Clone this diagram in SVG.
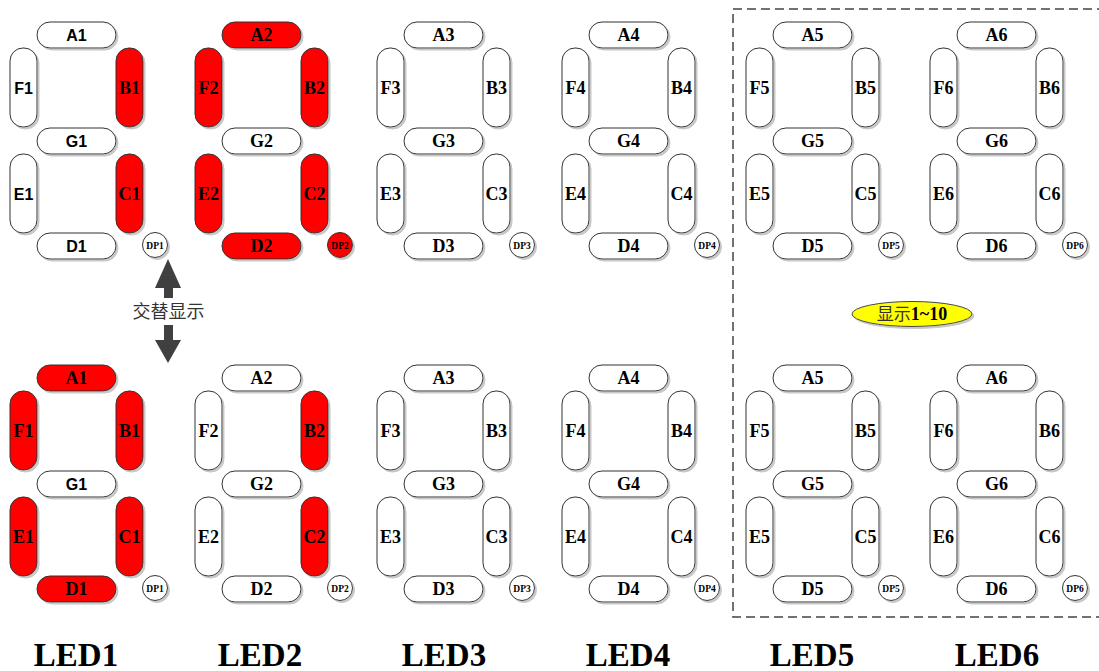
<svg xmlns="http://www.w3.org/2000/svg" width="1099" height="671" viewBox="0 0 1099 671">
<defs>
<style>
.seg{stroke:#333;stroke-width:1;filter:url(#sh)}
.off{fill:#fff}
.on{fill:#ff0000}
.ts{font-family:"Liberation Serif",serif;font-weight:bold;font-size:18px;text-anchor:middle;fill:#000}
.tn{font-family:"Liberation Sans",sans-serif;font-weight:bold;font-size:16px;text-anchor:middle;fill:#000}
.dp{font-family:"Liberation Serif",serif;font-weight:bold;font-size:9.5px;text-anchor:middle;fill:#000}
.led{font-family:"Liberation Serif",serif;font-weight:bold;font-size:33px;text-anchor:middle;fill:#000}
.cn{font-family:"Noto Sans CJK SC",sans-serif;fill:#333}
</style>
<filter id="sh" x="-20%" y="-20%" width="140%" height="140%">
<feDropShadow dx="2" dy="2" stdDeviation="0.6" flood-color="#c8c8c8"/>
</filter>
</defs>
<rect width="1099" height="671" fill="#fff"/>

<!-- LED1 top -->
<g id="led1-top">
<g id="t1-A"><rect class="seg off" x="37" y="22" width="79" height="26" rx="13"/><text class="tn" x="76.5" y="41">A1</text></g>
<g id="t1-F"><rect class="seg off" x="10" y="48" width="27" height="79" rx="13"/><text class="tn" x="23.5" y="93.5">F1</text></g>
<g id="t1-B"><rect class="seg on" x="116" y="48" width="27" height="79" rx="13"/><text class="ts" x="129.5" y="93.5">B1</text></g>
<g id="t1-G"><rect class="seg off" x="37" y="128" width="79" height="26" rx="13"/><text class="tn" x="76.5" y="147">G1</text></g>
<g id="t1-E"><rect class="seg off" x="10" y="154" width="27" height="79" rx="13"/><text class="tn" x="23.5" y="199.5">E1</text></g>
<g id="t1-C"><rect class="seg on" x="116" y="154" width="27" height="79" rx="13"/><text class="ts" x="129.5" y="199.5">C1</text></g>
<g id="t1-D"><rect class="seg off" x="37" y="233" width="79" height="26" rx="13"/><text class="tn" x="76.5" y="252">D1</text></g>
<g id="t1-DP"><circle class="seg off" cx="155" cy="245" r="12.5"/><text class="dp" x="155" y="248.5">DP1</text></g>
</g>

<!-- LED2 top -->
<g id="led2-top">
<g id="t2-A"><rect class="seg on" x="222" y="22" width="79" height="26" rx="13"/><text class="ts" x="261.5" y="41">A2</text></g>
<g id="t2-F"><rect class="seg on" x="195" y="48" width="27" height="79" rx="13"/><text class="ts" x="208.5" y="93.5">F2</text></g>
<g id="t2-B"><rect class="seg on" x="301" y="48" width="27" height="79" rx="13"/><text class="ts" x="314.5" y="93.5">B2</text></g>
<g id="t2-G"><rect class="seg off" x="222" y="128" width="79" height="26" rx="13"/><text class="ts" x="261.5" y="147">G2</text></g>
<g id="t2-E"><rect class="seg on" x="195" y="154" width="27" height="79" rx="13"/><text class="ts" x="208.5" y="199.5">E2</text></g>
<g id="t2-C"><rect class="seg on" x="301" y="154" width="27" height="79" rx="13"/><text class="ts" x="314.5" y="199.5">C2</text></g>
<g id="t2-D"><rect class="seg on" x="222" y="233" width="79" height="26" rx="13"/><text class="ts" x="261.5" y="252">D2</text></g>
<g id="t2-DP"><circle class="seg on" cx="340" cy="245" r="12.5"/><text class="dp" x="340" y="248.5">DP2</text></g>
</g>

<!-- LED3 top -->
<g id="led3-top">
<g id="t3-A"><rect class="seg off" x="404" y="22" width="79" height="26" rx="13"/><text class="ts" x="443.5" y="41">A3</text></g>
<g id="t3-F"><rect class="seg off" x="377" y="48" width="27" height="79" rx="13"/><text class="ts" x="390.5" y="93.5">F3</text></g>
<g id="t3-B"><rect class="seg off" x="483" y="48" width="27" height="79" rx="13"/><text class="ts" x="496.5" y="93.5">B3</text></g>
<g id="t3-G"><rect class="seg off" x="404" y="128" width="79" height="26" rx="13"/><text class="ts" x="443.5" y="147">G3</text></g>
<g id="t3-E"><rect class="seg off" x="377" y="154" width="27" height="79" rx="13"/><text class="ts" x="390.5" y="199.5">E3</text></g>
<g id="t3-C"><rect class="seg off" x="483" y="154" width="27" height="79" rx="13"/><text class="ts" x="496.5" y="199.5">C3</text></g>
<g id="t3-D"><rect class="seg off" x="404" y="233" width="79" height="26" rx="13"/><text class="ts" x="443.5" y="252">D3</text></g>
<g id="t3-DP"><circle class="seg off" cx="522" cy="245" r="12.5"/><text class="dp" x="522" y="248.5">DP3</text></g>
</g>

<!-- LED4 top -->
<g id="led4-top">
<g id="t4-A"><rect class="seg off" x="589" y="22" width="79" height="26" rx="13"/><text class="ts" x="628.5" y="41">A4</text></g>
<g id="t4-F"><rect class="seg off" x="562" y="48" width="27" height="79" rx="13"/><text class="ts" x="575.5" y="93.5">F4</text></g>
<g id="t4-B"><rect class="seg off" x="668" y="48" width="27" height="79" rx="13"/><text class="ts" x="681.5" y="93.5">B4</text></g>
<g id="t4-G"><rect class="seg off" x="589" y="128" width="79" height="26" rx="13"/><text class="ts" x="628.5" y="147">G4</text></g>
<g id="t4-E"><rect class="seg off" x="562" y="154" width="27" height="79" rx="13"/><text class="ts" x="575.5" y="199.5">E4</text></g>
<g id="t4-C"><rect class="seg off" x="668" y="154" width="27" height="79" rx="13"/><text class="ts" x="681.5" y="199.5">C4</text></g>
<g id="t4-D"><rect class="seg off" x="589" y="233" width="79" height="26" rx="13"/><text class="ts" x="628.5" y="252">D4</text></g>
<g id="t4-DP"><circle class="seg off" cx="707" cy="245" r="12.5"/><text class="dp" x="707" y="248.5">DP4</text></g>
</g>

<!-- LED5 top -->
<g id="led5-top">
<g id="t5-A"><rect class="seg off" x="773" y="22" width="79" height="26" rx="13"/><text class="ts" x="812.5" y="41">A5</text></g>
<g id="t5-F"><rect class="seg off" x="746" y="48" width="27" height="79" rx="13"/><text class="ts" x="759.5" y="93.5">F5</text></g>
<g id="t5-B"><rect class="seg off" x="852" y="48" width="27" height="79" rx="13"/><text class="ts" x="865.5" y="93.5">B5</text></g>
<g id="t5-G"><rect class="seg off" x="773" y="128" width="79" height="26" rx="13"/><text class="ts" x="812.5" y="147">G5</text></g>
<g id="t5-E"><rect class="seg off" x="746" y="154" width="27" height="79" rx="13"/><text class="ts" x="759.5" y="199.5">E5</text></g>
<g id="t5-C"><rect class="seg off" x="852" y="154" width="27" height="79" rx="13"/><text class="ts" x="865.5" y="199.5">C5</text></g>
<g id="t5-D"><rect class="seg off" x="773" y="233" width="79" height="26" rx="13"/><text class="ts" x="812.5" y="252">D5</text></g>
<g id="t5-DP"><circle class="seg off" cx="891" cy="245" r="12.5"/><text class="dp" x="891" y="248.5">DP5</text></g>
</g>

<!-- LED6 top -->
<g id="led6-top">
<g id="t6-A"><rect class="seg off" x="957" y="22" width="79" height="26" rx="13"/><text class="ts" x="996.5" y="41">A6</text></g>
<g id="t6-F"><rect class="seg off" x="930" y="48" width="27" height="79" rx="13"/><text class="ts" x="943.5" y="93.5">F6</text></g>
<g id="t6-B"><rect class="seg off" x="1036" y="48" width="27" height="79" rx="13"/><text class="ts" x="1049.5" y="93.5">B6</text></g>
<g id="t6-G"><rect class="seg off" x="957" y="128" width="79" height="26" rx="13"/><text class="ts" x="996.5" y="147">G6</text></g>
<g id="t6-E"><rect class="seg off" x="930" y="154" width="27" height="79" rx="13"/><text class="ts" x="943.5" y="199.5">E6</text></g>
<g id="t6-C"><rect class="seg off" x="1036" y="154" width="27" height="79" rx="13"/><text class="ts" x="1049.5" y="199.5">C6</text></g>
<g id="t6-D"><rect class="seg off" x="957" y="233" width="79" height="26" rx="13"/><text class="ts" x="996.5" y="252">D6</text></g>
<g id="t6-DP"><circle class="seg off" cx="1075" cy="245" r="12.5"/><text class="dp" x="1075" y="248.5">DP6</text></g>
</g>

<!-- LED1 bottom -->
<g id="led1-bottom">
<g id="b1-A"><rect class="seg on" x="37" y="365" width="79" height="26" rx="13"/><text class="ts" x="76.5" y="384">A1</text></g>
<g id="b1-F"><rect class="seg on" x="10" y="391" width="27" height="79" rx="13"/><text class="ts" x="23.5" y="436.5">F1</text></g>
<g id="b1-B"><rect class="seg on" x="116" y="391" width="27" height="79" rx="13"/><text class="ts" x="129.5" y="436.5">B1</text></g>
<g id="b1-G"><rect class="seg off" x="37" y="471" width="79" height="26" rx="13"/><text class="tn" x="76.5" y="490">G1</text></g>
<g id="b1-E"><rect class="seg on" x="10" y="497" width="27" height="79" rx="13"/><text class="ts" x="23.5" y="542.5">E1</text></g>
<g id="b1-C"><rect class="seg on" x="116" y="497" width="27" height="79" rx="13"/><text class="ts" x="129.5" y="542.5">C1</text></g>
<g id="b1-D"><rect class="seg on" x="37" y="576" width="79" height="26" rx="13"/><text class="ts" x="76.5" y="595">D1</text></g>
<g id="b1-DP"><circle class="seg off" cx="155" cy="588" r="12.5"/><text class="dp" x="155" y="591.5">DP1</text></g>
</g>

<!-- LED2 bottom -->
<g id="led2-bottom">
<g id="b2-A"><rect class="seg off" x="222" y="365" width="79" height="26" rx="13"/><text class="ts" x="261.5" y="384">A2</text></g>
<g id="b2-F"><rect class="seg off" x="195" y="391" width="27" height="79" rx="13"/><text class="ts" x="208.5" y="436.5">F2</text></g>
<g id="b2-B"><rect class="seg on" x="301" y="391" width="27" height="79" rx="13"/><text class="ts" x="314.5" y="436.5">B2</text></g>
<g id="b2-G"><rect class="seg off" x="222" y="471" width="79" height="26" rx="13"/><text class="ts" x="261.5" y="490">G2</text></g>
<g id="b2-E"><rect class="seg off" x="195" y="497" width="27" height="79" rx="13"/><text class="ts" x="208.5" y="542.5">E2</text></g>
<g id="b2-C"><rect class="seg on" x="301" y="497" width="27" height="79" rx="13"/><text class="ts" x="314.5" y="542.5">C2</text></g>
<g id="b2-D"><rect class="seg off" x="222" y="576" width="79" height="26" rx="13"/><text class="ts" x="261.5" y="595">D2</text></g>
<g id="b2-DP"><circle class="seg off" cx="340" cy="588" r="12.5"/><text class="dp" x="340" y="591.5">DP2</text></g>
</g>

<!-- LED3 bottom -->
<g id="led3-bottom">
<g id="b3-A"><rect class="seg off" x="404" y="365" width="79" height="26" rx="13"/><text class="ts" x="443.5" y="384">A3</text></g>
<g id="b3-F"><rect class="seg off" x="377" y="391" width="27" height="79" rx="13"/><text class="ts" x="390.5" y="436.5">F3</text></g>
<g id="b3-B"><rect class="seg off" x="483" y="391" width="27" height="79" rx="13"/><text class="ts" x="496.5" y="436.5">B3</text></g>
<g id="b3-G"><rect class="seg off" x="404" y="471" width="79" height="26" rx="13"/><text class="ts" x="443.5" y="490">G3</text></g>
<g id="b3-E"><rect class="seg off" x="377" y="497" width="27" height="79" rx="13"/><text class="ts" x="390.5" y="542.5">E3</text></g>
<g id="b3-C"><rect class="seg off" x="483" y="497" width="27" height="79" rx="13"/><text class="ts" x="496.5" y="542.5">C3</text></g>
<g id="b3-D"><rect class="seg off" x="404" y="576" width="79" height="26" rx="13"/><text class="ts" x="443.5" y="595">D3</text></g>
<g id="b3-DP"><circle class="seg off" cx="522" cy="588" r="12.5"/><text class="dp" x="522" y="591.5">DP3</text></g>
</g>

<!-- LED4 bottom -->
<g id="led4-bottom">
<g id="b4-A"><rect class="seg off" x="589" y="365" width="79" height="26" rx="13"/><text class="ts" x="628.5" y="384">A4</text></g>
<g id="b4-F"><rect class="seg off" x="562" y="391" width="27" height="79" rx="13"/><text class="ts" x="575.5" y="436.5">F4</text></g>
<g id="b4-B"><rect class="seg off" x="668" y="391" width="27" height="79" rx="13"/><text class="ts" x="681.5" y="436.5">B4</text></g>
<g id="b4-G"><rect class="seg off" x="589" y="471" width="79" height="26" rx="13"/><text class="ts" x="628.5" y="490">G4</text></g>
<g id="b4-E"><rect class="seg off" x="562" y="497" width="27" height="79" rx="13"/><text class="ts" x="575.5" y="542.5">E4</text></g>
<g id="b4-C"><rect class="seg off" x="668" y="497" width="27" height="79" rx="13"/><text class="ts" x="681.5" y="542.5">C4</text></g>
<g id="b4-D"><rect class="seg off" x="589" y="576" width="79" height="26" rx="13"/><text class="ts" x="628.5" y="595">D4</text></g>
<g id="b4-DP"><circle class="seg off" cx="707" cy="588" r="12.5"/><text class="dp" x="707" y="591.5">DP4</text></g>
</g>

<!-- LED5 bottom -->
<g id="led5-bottom">
<g id="b5-A"><rect class="seg off" x="773" y="365" width="79" height="26" rx="13"/><text class="ts" x="812.5" y="384">A5</text></g>
<g id="b5-F"><rect class="seg off" x="746" y="391" width="27" height="79" rx="13"/><text class="ts" x="759.5" y="436.5">F5</text></g>
<g id="b5-B"><rect class="seg off" x="852" y="391" width="27" height="79" rx="13"/><text class="ts" x="865.5" y="436.5">B5</text></g>
<g id="b5-G"><rect class="seg off" x="773" y="471" width="79" height="26" rx="13"/><text class="ts" x="812.5" y="490">G5</text></g>
<g id="b5-E"><rect class="seg off" x="746" y="497" width="27" height="79" rx="13"/><text class="ts" x="759.5" y="542.5">E5</text></g>
<g id="b5-C"><rect class="seg off" x="852" y="497" width="27" height="79" rx="13"/><text class="ts" x="865.5" y="542.5">C5</text></g>
<g id="b5-D"><rect class="seg off" x="773" y="576" width="79" height="26" rx="13"/><text class="ts" x="812.5" y="595">D5</text></g>
<g id="b5-DP"><circle class="seg off" cx="891" cy="588" r="12.5"/><text class="dp" x="891" y="591.5">DP5</text></g>
</g>

<!-- LED6 bottom -->
<g id="led6-bottom">
<g id="b6-A"><rect class="seg off" x="957" y="365" width="79" height="26" rx="13"/><text class="ts" x="996.5" y="384">A6</text></g>
<g id="b6-F"><rect class="seg off" x="930" y="391" width="27" height="79" rx="13"/><text class="ts" x="943.5" y="436.5">F6</text></g>
<g id="b6-B"><rect class="seg off" x="1036" y="391" width="27" height="79" rx="13"/><text class="ts" x="1049.5" y="436.5">B6</text></g>
<g id="b6-G"><rect class="seg off" x="957" y="471" width="79" height="26" rx="13"/><text class="ts" x="996.5" y="490">G6</text></g>
<g id="b6-E"><rect class="seg off" x="930" y="497" width="27" height="79" rx="13"/><text class="ts" x="943.5" y="542.5">E6</text></g>
<g id="b6-C"><rect class="seg off" x="1036" y="497" width="27" height="79" rx="13"/><text class="ts" x="1049.5" y="542.5">C6</text></g>
<g id="b6-D"><rect class="seg off" x="957" y="576" width="79" height="26" rx="13"/><text class="ts" x="996.5" y="595">D6</text></g>
<g id="b6-DP"><circle class="seg off" cx="1075" cy="588" r="12.5"/><text class="dp" x="1075" y="591.5">DP6</text></g>
</g>

<!-- dashed frame -->
<g id="frame">
<rect x="733" y="9" width="400" height="608" fill="none" stroke="#444" stroke-width="1.5" stroke-dasharray="9 5"/>
</g>

<!-- connectors: alternation arrows -->
<g id="connectors">
<polygon points="168,259 181,288 173,288 173,298 164,298 164,288 155,288" fill="#404040"/>
<polygon points="164,325 173,325 173,340 181,340 168,363 155,340 164,340" fill="#404040"/>
</g>
<g id="alt-label">
<text class="cn" x="168.5" y="318" font-size="18" text-anchor="middle">交替显示</text>
</g>

<!-- yellow note -->
<g id="note">
<ellipse cx="912" cy="314" rx="60" ry="12.5" fill="#ffff00" stroke="#444" stroke-width="1" filter="url(#sh)"/>
<text x="912" y="320" text-anchor="middle"><tspan class="cn" font-size="17">显示</tspan><tspan font-family="Liberation Serif, serif" font-weight="bold" font-size="18">1~10</tspan></text>
</g>

<!-- LED captions -->
<g id="captions">
<text class="led" x="76" y="666">LED1</text>
<text class="led" x="260" y="666">LED2</text>
<text class="led" x="444" y="666">LED3</text>
<text class="led" x="628" y="666">LED4</text>
<text class="led" x="812" y="666">LED5</text>
<text class="led" x="997" y="666">LED6</text>
</g>
</svg>
